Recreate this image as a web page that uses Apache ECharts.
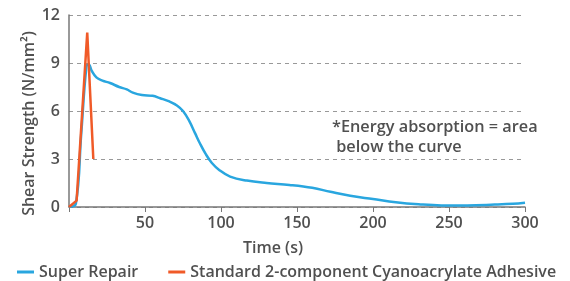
<!DOCTYPE html>
<html>
<head>
<meta charset="utf-8">
<script src="https://cdn.jsdelivr.net/npm/echarts@6/dist/echarts.min.js"></script>
<style>
  html, body { margin: 0; padding: 0; background: #fff; }
  #chart { width: 570px; height: 281px; }
</style>
</head>
<body>
<div id="chart"></div>
<script>
// time (s) / shear strength (N/mm²)
var superRepair = [
  [0, 0], [4.5, 0.2], [8, 4.5], [11.5, 8.8], [13, 8.9], [15, 8.5], [18, 8.1], [22, 7.9],
  [27, 7.75], [33, 7.5], [38, 7.35], [42, 7.15], [48, 7.0], [55, 6.95], [60, 6.8],
  [66, 6.6], [71, 6.35], [75, 6.0], [79, 5.4], [83, 4.6], [86, 4.0], [90, 3.3],
  [94, 2.75], [99, 2.3], [106, 1.9], [117, 1.65], [130, 1.5], [145, 1.38],
  [160, 1.2], [172, 0.95], [185, 0.7], [200, 0.5], [215, 0.3], [230, 0.17],
  [245, 0.1], [262, 0.1], [280, 0.15], [292, 0.2], [300, 0.27]
];
var standardCA = [
  [0, 0], [5, 0.4], [12, 10.9], [16, 3.0]
];
var yTicks = [0, 3, 6, 9, 12];
var xTicks = [50, 100, 150, 200, 250, 300];

var chart = echarts.init(document.getElementById('chart'));
var txt = '#505050';
var fs = 16;
chart.setOption({
  animation: false,
  textStyle: { fontFamily: 'Open Sans', fontWeight: 600 },
  grid: { left: 69, right: 45, top: 15, bottom: 74 },
  xAxis: {
    type: 'value',
    min: 0, max: 300, interval: 50,
    name: 'Time (s)',
    nameLocation: 'middle',
    nameMoveOverlap: false,
    nameGap: 33,
    nameTextStyle: { color: txt, fontSize: fs, fontWeight: 600, padding: [0, 48, 0, 0] },
    axisLine: { lineStyle: { color: '#777', width: 1.5 } },
    axisTick: { show: true, length: 5, lineStyle: { color: '#777' } },
    axisLabel: {
      color: txt, fontSize: fs, fontWeight: 600, margin: 8,
      formatter: function (v) { return xTicks.indexOf(v) >= 0 ? v : ''; }
    },
    splitLine: { show: false }
  },
  yAxis: {
    type: 'value',
    min: 0, max: 12, interval: 3,
    name: 'Shear Strength (N/mm²)',
    nameLocation: 'middle',
    nameMoveOverlap: false,
    nameGap: 32,
    nameTextStyle: { color: txt, fontSize: fs, fontWeight: 600, padding: [0, 0, 0, -25] },
    axisLine: { show: true, lineStyle: { color: '#777', width: 1.5 } },
    axisTick: { show: false },
    axisLabel: {
      color: txt, fontSize: fs, fontWeight: 600, margin: 9,
      formatter: function (v) { return yTicks.indexOf(v) >= 0 ? v : ''; }
    },
    splitLine: { show: true, lineStyle: { color: '#999', type: [4, 4], width: 1 } }
  },
  legend: {
    left: 12, top: 259,
    itemWidth: 17, itemHeight: 3, itemGap: 30,
    icon: 'rect',
    textStyle: { color: txt, fontSize: fs, fontWeight: 600 },
    data: ['Super Repair', 'Standard 2-component Cyanoacrylate Adhesive']
  },
  graphic: [{
    type: 'text',
    left: 332, top: 117,
    style: {
      text: '*Energy absorption = area\n below the curve',
      fill: txt, fontSize: 16.3, fontWeight: 600, fontFamily: 'Open Sans', lineHeight: 20
    }
  }],
  series: [{
    name: 'Super Repair',
    type: 'line',
    data: superRepair,
    smooth: 0.4,
    showSymbol: false,
    lineStyle: { color: '#29a6df', width: 2.5 },
    itemStyle: { color: '#29a6df' }
  }, {
    name: 'Standard 2-component Cyanoacrylate Adhesive',
    type: 'line',
    data: standardCA,
    showSymbol: false,
    lineStyle: { color: '#f05a28', width: 2.5 },
    itemStyle: { color: '#f05a28' }
  }]
});
</script>
</body>
</html>
